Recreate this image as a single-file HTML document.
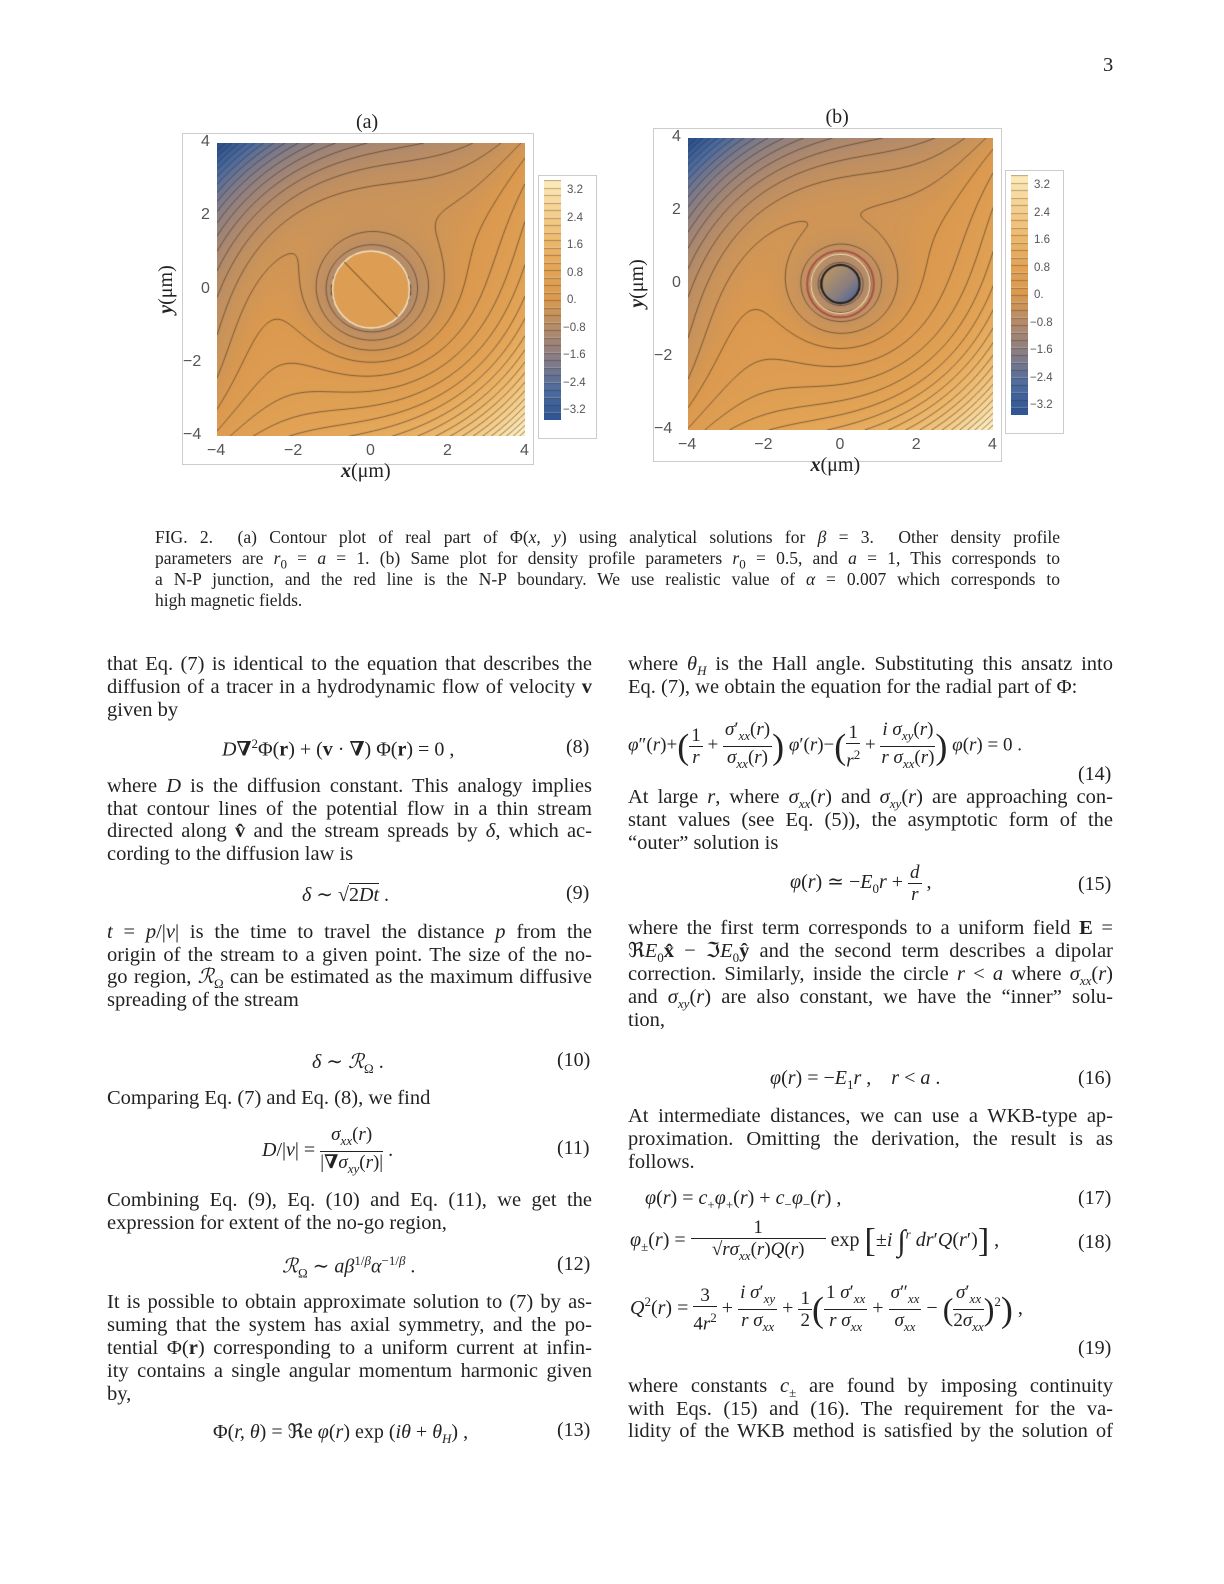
<!DOCTYPE html>
<html><head><meta charset="utf-8">
<style>
body{margin:0;background:#fff;}
#page{position:relative;width:1224px;height:1584px;background:#fff;font-family:"Liberation Serif","DejaVu Serif",serif;color:#222;overflow:hidden}
.shift{position:absolute;left:0;top:9px;width:1224px;height:1500px}
.l{position:absolute;font-size:20.5px;line-height:22px;white-space:nowrap}
.j{text-align:justify;text-align-last:justify;white-space:normal}
.lc{left:107px;width:485px}
.rc{left:628px;width:485px}
.en{position:absolute;font-size:20px;white-space:nowrap}
.cap{position:absolute;left:155px;width:905px;font-size:17.5px;line-height:21px;white-space:nowrap}
.tk{position:absolute;font-family:"Liberation Sans","DejaVu Sans",sans-serif;font-size:16px;color:#555}
.cbt{position:absolute;font-family:"Liberation Sans","DejaVu Sans",sans-serif;font-size:11.5px;color:#555}
.frac{display:inline-block;vertical-align:middle;text-align:center;font-size:19px;line-height:21px}
.frac>span{display:block}
.frac>span.n{border-bottom:1px solid #222;padding:0 2px}
i{font-style:italic}
sub,sup{font-size:13px}
</style></head><body>
<div id="page">
<div class="l" style="left:1103px;top:54px">3</div>

<div id="figA"></div>
<div id="figB"></div>

<div class="shift" style="top:7px">
<div class="cap j" style="top:520px">FIG. 2.&nbsp; (a) Contour plot of real part of Φ(<i>x, y</i>) using analytical solutions for <i>β</i> = 3.&nbsp; Other density profile</div>
<div class="cap j" style="top:541px">parameters are <i>r</i><sub>0</sub> = <i>a</i> = 1. (b) Same plot for density profile parameters <i>r</i><sub>0</sub> = 0.5, and <i>a</i> = 1, This corresponds to</div>
<div class="cap j" style="top:562px">a N-P junction, and the red line is the N-P boundary. We use realistic value of <i>α</i> = 0.007 which corresponds to</div>
<div class="cap" style="top:583px">high magnetic fields.</div>
</div>

<div class="shift">
<!-- left column -->
<div>
<div class="l lc j" style="top:644px">that Eq. (7) is identical to the equation that describes the</div>
<div class="l lc j" style="top:667px">diffusion of a tracer in a hydrodynamic flow of velocity <b>v</b></div>
<div class="l lc" style="top:690px">given by</div>
<div class="en" style="left:222px;top:727px"><i>D</i><b>∇</b><sup>2</sup>Φ(<b>r</b>) + (<b>v</b> · <b>∇</b>) Φ(<b>r</b>) = 0 ,</div>
<div class="en" style="left:566px;top:727px">(8)</div>
<div class="l lc j" style="top:766px">where <i>D</i> is the diffusion constant. This analogy implies</div>
<div class="l lc j" style="top:789px">that contour lines of the potential flow in a thin stream</div>
<div class="l lc j" style="top:811px">directed along <b>v̂</b> and the stream spreads by <i>δ</i>, which ac-</div>
<div class="l lc" style="top:834px">cording to the diffusion law is</div>
<div class="en" style="left:302px;top:873px"><i>δ</i> ∼ √<span style="border-top:1px solid #222">2<i>Dt</i></span> .</div>
<div class="en" style="left:566px;top:873px">(9)</div>
<div class="l lc j" style="top:912px"><i>t</i> = <i>p</i>/|<i>v</i>| is the time to travel the distance <i>p</i> from the</div>
<div class="l lc j" style="top:935px">origin of the stream to a given point. The size of the no-</div>
<div class="l lc j" style="top:957px">go region, <i>ℛ</i><sub>Ω</sub> can be estimated as the maximum diffusive</div>
<div class="l lc" style="top:980px">spreading of the stream</div>
<div class="en" style="left:312px;top:1040px"><i>δ</i> ∼ <i>ℛ</i><sub>Ω</sub> .</div>
<div class="en" style="left:557px;top:1040px">(10)</div>
<div class="l lc" style="top:1078px">Comparing Eq. (7) and Eq. (8), we find</div>
<div class="en" style="left:262px;top:1115px"><i>D</i>/|<i>v</i>| = <span class="frac"><span class="n"><i>σ<sub>xx</sub></i>(<i>r</i>)</span><span>|<b>∇</b><i>σ<sub>xy</sub></i>(<i>r</i>)|</span></span> .</div>
<div class="en" style="left:557px;top:1128px">(11)</div>
<div class="l lc j" style="top:1180px">Combining Eq. (9), Eq. (10) and Eq. (11), we get the</div>
<div class="l lc" style="top:1203px">expression for extent of the no-go region,</div>
<div class="en" style="left:282px;top:1244px"><i>ℛ</i><sub>Ω</sub> ∼ <i>aβ</i><sup>1/<i>β</i></sup><i>α</i><sup>−1/<i>β</i></sup> .</div>
<div class="en" style="left:557px;top:1244px">(12)</div>
<div class="l lc j" style="top:1282px">It is possible to obtain approximate solution to (7) by as-</div>
<div class="l lc j" style="top:1305px">suming that the system has axial symmetry, and the po-</div>
<div class="l lc j" style="top:1328px">tential Φ(<b>r</b>) corresponding to a uniform current at infin-</div>
<div class="l lc j" style="top:1351px">ity contains a single angular momentum harmonic given</div>
<div class="l lc" style="top:1374px">by,</div>
<div class="en" style="left:213px;top:1410px">Φ(<i>r, θ</i>) = ℜe <i>φ</i>(<i>r</i>) exp (<i>iθ</i> + <i>θ<sub>H</sub></i>) ,</div>
<div class="en" style="left:557px;top:1410px">(13)</div>
</div>

<!-- right column -->
<div>
<div class="l rc j" style="top:644px">where <i>θ<sub>H</sub></i> is the Hall angle. Substituting this ansatz into</div>
<div class="l rc" style="top:667px">Eq. (7), we obtain the equation for the radial part of Φ:</div>
<div class="en" style="left:628px;top:710px;font-size:19px"><i>φ</i>″(<i>r</i>)+<span style="font-size:36px;vertical-align:middle">(</span><span class="frac"><span class="n">1</span><span><i>r</i></span></span> + <span class="frac"><span class="n"><i>σ</i>′<sub><i>xx</i></sub>(<i>r</i>)</span><span><i>σ<sub>xx</sub></i>(<i>r</i>)</span></span><span style="font-size:36px;vertical-align:middle">)</span> <i>φ</i>′(<i>r</i>)−<span style="font-size:36px;vertical-align:middle">(</span><span class="frac"><span class="n">1</span><span><i>r</i><sup>2</sup></span></span> + <span class="frac"><span class="n"><i>i σ<sub>xy</sub></i>(<i>r</i>)</span><span><i>r σ<sub>xx</sub></i>(<i>r</i>)</span></span><span style="font-size:36px;vertical-align:middle">)</span> <i>φ</i>(<i>r</i>) = 0 .</div>
<div class="en" style="left:1078px;top:754px">(14)</div>
<div class="l rc j" style="top:777px">At large <i>r</i>, where <i>σ<sub>xx</sub></i>(<i>r</i>) and <i>σ<sub>xy</sub></i>(<i>r</i>) are approaching con-</div>
<div class="l rc j" style="top:800px">stant values (see Eq. (5)), the asymptotic form of the</div>
<div class="l rc" style="top:823px">“outer” solution is</div>
<div class="en" style="left:790px;top:853px"><i>φ</i>(<i>r</i>) ≃ −<i>E</i><sub>0</sub><i>r</i> + <span class="frac"><span class="n"><i>d</i></span><span><i>r</i></span></span> ,</div>
<div class="en" style="left:1078px;top:864px">(15)</div>
<div class="l rc j" style="top:908px">where the first term corresponds to a uniform field <b>E</b> =</div>
<div class="l rc j" style="top:931px">ℜ<i>E</i><sub>0</sub><b>x̂</b> − ℑ<i>E</i><sub>0</sub><b>ŷ</b> and the second term describes a dipolar</div>
<div class="l rc j" style="top:954px">correction. Similarly, inside the circle <i>r</i> &lt; <i>a</i> where <i>σ<sub>xx</sub></i>(<i>r</i>)</div>
<div class="l rc j" style="top:977px">and <i>σ<sub>xy</sub></i>(<i>r</i>) are also constant, we have the “inner” solu-</div>
<div class="l rc" style="top:1000px">tion,</div>
<div class="en" style="left:770px;top:1058px"><i>φ</i>(<i>r</i>) = −<i>E</i><sub>1</sub><i>r</i> ,&nbsp;&nbsp;&nbsp; <i>r</i> &lt; <i>a</i> .</div>
<div class="en" style="left:1078px;top:1058px">(16)</div>
<div class="l rc j" style="top:1096px">At intermediate distances, we can use a WKB-type ap-</div>
<div class="l rc j" style="top:1119px">proximation. Omitting the derivation, the result is as</div>
<div class="l rc" style="top:1142px">follows.</div>
<div class="en" style="left:645px;top:1178px"><i>φ</i>(<i>r</i>) = <i>c</i><sub>+</sub><i>φ</i><sub>+</sub>(<i>r</i>) + <i>c</i><sub>−</sub><i>φ</i><sub>−</sub>(<i>r</i>) ,</div>
<div class="en" style="left:1078px;top:1178px">(17)</div>
<div class="en" style="left:630px;top:1208px"><i>φ</i><sub>±</sub>(<i>r</i>) = <span class="frac" style="width:135px"><span class="n">1</span><span>√<i>rσ<sub>xx</sub></i>(<i>r</i>)<i>Q</i>(<i>r</i>)</span></span> exp <span style="font-size:34px;vertical-align:middle">[</span>±<i>i</i> <span style="font-size:30px;vertical-align:middle">∫</span><sup><i>r</i></sup> <i>dr</i>′<i>Q</i>(<i>r</i>′)<span style="font-size:34px;vertical-align:middle">]</span> ,</div>
<div class="en" style="left:1078px;top:1222px">(18)</div>
<div class="en" style="left:630px;top:1273px"><i>Q</i><sup>2</sup>(<i>r</i>) = <span class="frac"><span class="n">3</span><span>4<i>r</i><sup>2</sup></span></span> + <span class="frac"><span class="n"><i>i σ</i>′<sub><i>xy</i></sub></span><span><i>r σ<sub>xx</sub></i></span></span> + <span class="frac"><span class="n">1</span><span>2</span></span><span style="font-size:36px;vertical-align:middle">(</span><span class="frac"><span class="n">1 <i>σ</i>′<sub><i>xx</i></sub></span><span><i>r σ<sub>xx</sub></i></span></span> + <span class="frac"><span class="n"><i>σ</i>″<sub><i>xx</i></sub></span><span><i>σ<sub>xx</sub></i></span></span> − <span style="font-size:32px;vertical-align:middle">(</span><span class="frac"><span class="n"><i>σ</i>′<sub><i>xx</i></sub></span><span>2<i>σ<sub>xx</sub></i></span></span><span style="font-size:32px;vertical-align:middle">)</span><sup>2</sup><span style="font-size:36px;vertical-align:middle">)</span> ,</div>
<div class="en" style="left:1078px;top:1328px">(19)</div>
<div class="l rc j" style="top:1366px">where constants <i>c</i><sub>±</sub> are found by imposing continuity</div>
<div class="l rc j" style="top:1389px">with Eqs. (15) and (16). The requirement for the va-</div>
<div class="l rc j" style="top:1411px">lidity of the WKB method is satisfied by the solution of</div>
</div>
</div>

<script>
// ---- chart data ----
const xTicks = [-4, -2, 0, 2, 4];
const yTicks = [4, 2, 0, -2, -4];
const cbTicks = [3.2, 2.4, 1.6, 0.8, 0, -0.8, -1.6, -2.4, -3.2];
const cbLabels = ["3.2", "2.4", "1.6", "0.8", "0.", "−0.8", "−1.6", "−2.4", "−3.2"];
const fieldA = [0.0195, 0.0195];    // far-field cubic amplitude, plots a and b
const hallTwist = [1.6, 1.9];       // rotation of contours near the disc
const ringAmp = [1.4, 1.6];         // radial ring term amplitude
const ringDecay = [0.8, 0.75];
const innerRadius = [1.0, 0.5];
const cmapVals = [-3.2, -2.4, -1.6, -0.8, 0, 0.8, 1.6, 2.4, 3.2];
const cmapCols = ["#2c5493", "#4d6ba0", "#857d87", "#b18a6c", "#da994f", "#e3a456", "#edb96e", "#f6d191", "#fdebbc"];

function hex(c){return [parseInt(c.slice(1,3),16),parseInt(c.slice(3,5),16),parseInt(c.slice(5,7),16)];}
const cmapRGB = cmapCols.map(hex);
function cmap(v){
  if(v<=cmapVals[0]) return cmapRGB[0];
  for(let k=0;k<cmapVals.length-1;k++){
    if(v<=cmapVals[k+1]){const t=(v-cmapVals[k])/(cmapVals[k+1]-cmapVals[k]);
      return cmapRGB[k].map((c,i)=>c+(cmapRGB[k+1][i]-c)*t);}
  }
  return cmapRGB[cmapRGB.length-1];
}
function field(p,x,y){
  const r=Math.hypot(x,y), a=innerRadius[p];
  const th=Math.atan2(y,x);
  if(r<a){ return p===0 ? 0.05+0.02*(x-y) : 0.3*(x-y)/a; }
  const h=hallTwist[p]*Math.exp(-(r-a)/1.4);
  const ring=-ringAmp[p]*Math.exp(-(r-a)/ringDecay[p])*0.6;
  return fieldA[p]*Math.pow(r,3)*Math.cos(th+Math.PI/4+h)+ring*Math.exp(-Math.pow(r/3,4))+0.05;
}

function makePlot(p,cfg){
  const host=document.getElementById(p===0?'figA':'figB');
  const fr=document.createElement('div');
  
  
  fr.style.cssText=`position:absolute;left:${cfg.fx}px;top:${cfg.fy}px;width:${cfg.fw}px;height:${cfg.fh}px;border:1px solid #ccc;`;
  host.appendChild(fr);
  const W=cfg.x1-cfg.x0, H=cfg.y1-cfg.y0;
  const cv=document.createElement('canvas');
  cv.width=W;cv.height=H;
  
  
  cv.style.cssText=`position:absolute;left:${cfg.x0}px;top:${cfg.y0}px;`;
  host.appendChild(cv);
  const ctx=cv.getContext('2d');
  const img=ctx.createImageData(W,H);
  const xs=i=>-4+8*i/W, ys=j=>4-8*j/H;
  for(let j=0;j<H;j++)for(let i=0;i<W;i++){
    const c=cmap(field(p,xs(i),ys(j)));const o=(j*W+i)*4;
    img.data[o]=c[0];img.data[o+1]=c[1];img.data[o+2]=c[2];img.data[o+3]=255;}
  ctx.putImageData(img,0,0);
  const step=2, nx=Math.ceil(W/step)+1, ny=Math.ceil(H/step)+1;
  const g=[];for(let j=0;j<ny;j++){g.push([]);for(let i=0;i<nx;i++)g[j].push(field(p,xs(i*step),ys(j*step)));}
  ctx.strokeStyle='rgba(60,45,30,0.75)';ctx.lineWidth=0.8;ctx.beginPath();
  const rA=innerRadius[p]*W/8;
  for(let L=-4.0;L<=4.01;L+=0.2){
    for(let j=0;j<ny-1;j++)for(let i=0;i<nx-1;i++){
      const px=i*step-W/2, py=j*step-H/2;
      if(Math.hypot(px,py)<rA-2 && p===1) continue;
      const v=[g[j][i],g[j][i+1],g[j+1][i+1],g[j+1][i]];
      const pts=[];
      const corners=[[i,j],[i+1,j],[i+1,j+1],[i,j+1]];
      for(let e=0;e<4;e++){const a=v[e],b=v[(e+1)%4];
        if((a<L)!==(b<L)){const t=(L-a)/(b-a);const c1=corners[e],c2=corners[(e+1)%4];
          pts.push([(c1[0]+(c2[0]-c1[0])*t)*step,(c1[1]+(c2[1]-c1[1])*t)*step]);}}
      if(pts.length>=2){ctx.moveTo(pts[0][0],pts[0][1]);ctx.lineTo(pts[1][0],pts[1][1]);}
      if(pts.length===4){ctx.moveTo(pts[2][0],pts[2][1]);ctx.lineTo(pts[3][0],pts[3][1]);}
    }
  }
  ctx.stroke();
  const cx=W/2, cy=H/2, rr=rA;
  if(p===0){
    ctx.fillStyle='#dd9d52';ctx.beginPath();ctx.arc(cx,cy,rr,0,7);ctx.fill();
    ctx.strokeStyle='#f3e6c8';ctx.lineWidth=1.5;ctx.stroke();
    ctx.strokeStyle='rgba(60,45,30,0.8)';ctx.lineWidth=1;ctx.beginPath();ctx.moveTo(cx-rr*0.7,cy-rr*0.72);ctx.lineTo(cx+rr*0.7,cy+rr*0.72);ctx.stroke();
  } else {
    const gr=ctx.createLinearGradient(cx-rr,cy-rr,cx+rr,cy+rr);
    gr.addColorStop(0,'#c79b5a');gr.addColorStop(0.6,'#8a7e80');gr.addColorStop(1,'#3d5f98');
    ctx.fillStyle=gr;ctx.beginPath();ctx.arc(cx,cy,rr,0,7);ctx.fill();
    ctx.strokeStyle='#222';ctx.lineWidth=2;ctx.stroke();
    ctx.strokeStyle='#a8504a';ctx.lineWidth=2;ctx.beginPath();ctx.arc(cx,cy,rr*1.75,0,7);ctx.stroke();
    ctx.strokeStyle='#f5dca8';ctx.lineWidth=1.2;ctx.beginPath();ctx.arc(cx,cy,rr*1.55,0,7);ctx.stroke();
  }
  xTicks.forEach(t=>{const x=cfg.x0+(t+4)/8*W;
    const d=document.createElement('div');d.className='tk';
    
    
    d.textContent=t<0?'−'+(-t):String(t);
    d.style.left=(x-(t<0?10:5))+'px';d.style.top=(cfg.y1+6)+'px';host.appendChild(d);});
  yTicks.forEach(t=>{const y=cfg.y0+(4-t)/8*H;
    const d=document.createElement('div');d.className='tk';
    
    
    d.textContent=t<0?'−'+(-t):String(t);
    d.style.left=(cfg.x0-(t<0?34:16))+'px';d.style.top=(y-10)+'px';host.appendChild(d);});
  const xl=document.createElement('div');xl.className='en';
  
  
  xl.innerHTML='<b><i>x</i></b>(μm)';xl.style.cssText+=`left:${cfg.x0+W/2-30}px;top:${cfg.y1+24}px;`;host.appendChild(xl);
  const yl=document.createElement('div');yl.className='en';
  
  
  yl.innerHTML='<b><i>y</i></b>(μm)';yl.style.cssText+=`left:${cfg.fx-40}px;top:${cfg.y0+H/2-12}px;transform:rotate(-90deg);`;host.appendChild(yl);
  const tt=document.createElement('div');tt.className='en';
  
  
  tt.textContent=p===0?'(a)':'(b)';tt.style.cssText+=`left:${cfg.x0+W/2-15}px;top:${cfg.fy-22}px;`;host.appendChild(tt);
  const cb=document.createElement('div');
  
  
  cb.style.cssText=`position:absolute;left:${cfg.cbx}px;top:${cfg.cby}px;width:57px;height:262px;border:1px solid #ccc;`;
  host.appendChild(cb);
  const bar=document.createElement('canvas');bar.width=17;bar.height=240;
  
  
  bar.style.cssText='position:absolute;left:5px;top:4px;';cb.appendChild(bar);
  const bc=bar.getContext('2d');
  for(let k=0;k<32;k++){const v=3.2-k*0.2-0.1;const c=cmap(v);
    bc.fillStyle=`rgb(${c[0]|0},${c[1]|0},${c[2]|0})`;bc.fillRect(0,k*7.5,17,7.5);
    bc.fillStyle='rgba(60,45,30,0.5)';bc.fillRect(0,Math.round(k*7.5),17,0.7);}
  cbTicks.forEach((t,k)=>{const y=4+(3.2-t)/6.4*220+11;
    const d=document.createElement('div');d.className='cbt';
    
    
    d.textContent=cbLabels[k];d.style.left=(t<0?24:28)+'px';d.style.top=(y-7)+'px';cb.appendChild(d);});
}
makePlot(0,{fx:182,fy:133,fw:350,fh:330,x0:217,x1:525,y0:143,y1:436,cbx:538,cby:175});
makePlot(1,{fx:653,fy:128,fw:347,fh:332,x0:688,x1:993,y0:138,y1:430,cbx:1005,cby:170});
</script>
</div>
</body></html>
